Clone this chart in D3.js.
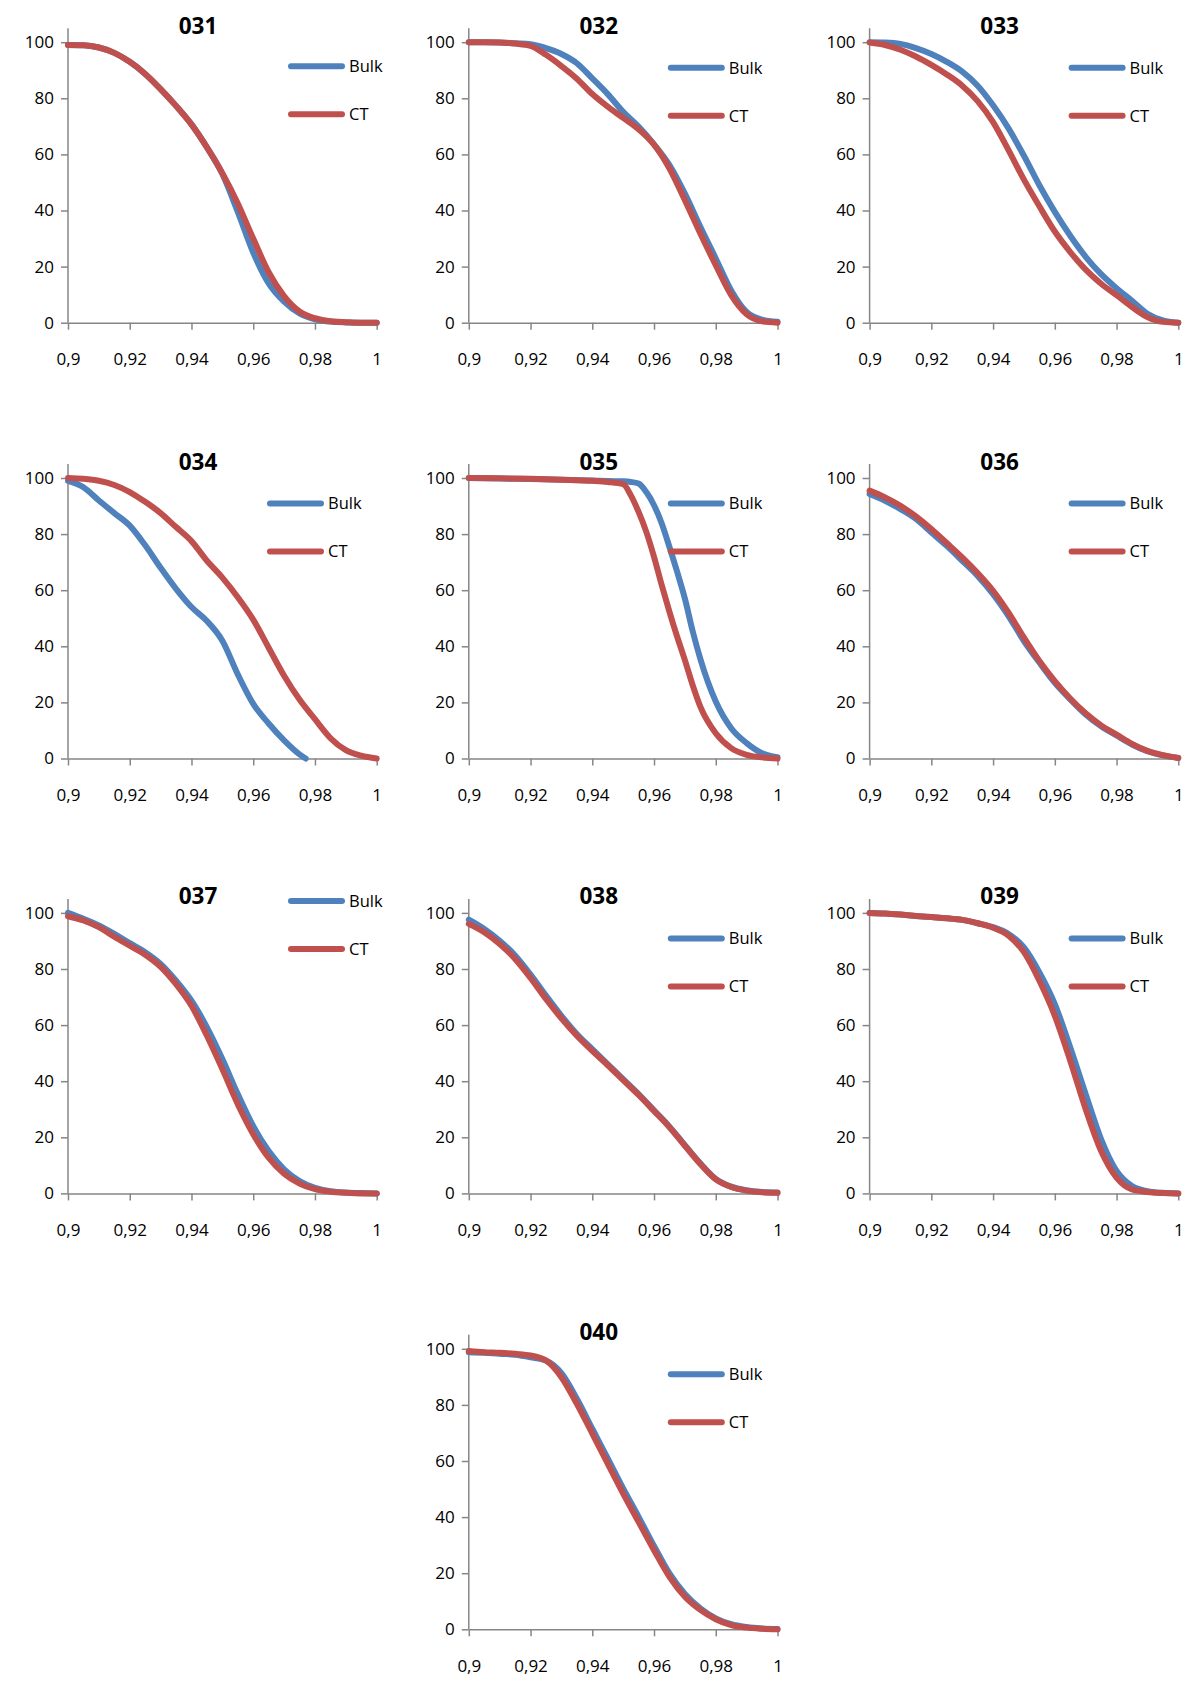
<!DOCTYPE html>
<html><head><meta charset="utf-8">
<script src="https://cdn.jsdelivr.net/npm/d3@7"></script>
<style>
body{margin:0;background:#fff;}
text{font-family:"Open Sans","Noto Sans",sans-serif;fill:#000;}
</style></head>
<body>
<svg id="chart" width="1200" height="1684"></svg>
<script>
// ---------- data ----------
const panelNames = ["031","032","033","034","035","036","037","038","039","040"];
const seriesNames = ["Bulk","CT"];
const xTickValues = [0.9,0.92,0.94,0.96,0.98,1];
const xTickLabels = ["0,9","0,92","0,94","0,96","0,98","1"];
const yTickValues = [0,20,40,60,80,100];
const yTickLabels = ["0","20","40","60","80","100"];

const xStd = [0.9,0.905,0.91,0.915,0.92,0.925,0.93,0.935,0.94,0.945,0.95,0.955,0.96,0.965,0.97,0.975,0.98,0.985,0.99,0.995,1];
const x034Bulk = [0.9,0.905,0.91,0.915,0.92,0.925,0.93,0.935,0.94,0.945,0.95,0.955,0.96,0.965,0.97,0.975,0.977];
const x035 = [0.9,0.91,0.92,0.93,0.94,0.945,0.95,0.9525,0.955,0.9575,0.96,0.9625,0.965,0.9675,0.97,0.9725,0.975,0.98,0.985,0.99,0.995,1];

const bulk031 = [99,98.9,98.1,96.2,93,88.7,83.3,77.3,70.7,62.5,53,39.5,25,14,7.5,3.3,1.2,0.4,0.1,0,0];
const ct031   = [99,98.9,98.1,96.2,93,88.7,83.3,77.3,70.7,62.5,53.3,42.5,30,18,9.5,4,1.6,0.5,0.2,0,0];
const bulk032 = [100,100,99.9,99.6,99.3,97.9,95.8,92.5,87.1,81.5,75.2,69.9,63.6,56.2,46,34.2,22.9,11.5,3.8,1.1,0.3];
const ct032   = [100,100,99.9,99.5,98.7,95.5,91.5,87,81.5,77,73,69,63.5,55,43.7,31.8,20.5,9.8,3,0.5,0];
const bulk033 = [100,99.9,99.4,97.9,95.8,93,89.5,84.5,77.5,69.3,59.5,49,39.5,31,23.5,17.3,12.3,7.8,3.2,0.8,0];
const ct033   = [99.9,99,97.3,94.9,91.9,88.5,84.5,79,71.5,61.5,51,41.5,32.5,25.2,18.9,13.9,9.8,5.6,2,0.3,0];
const bulk034 = [99,96.7,92,87.5,83,76,68,60.5,54,49,42,30,19.5,12.5,6.5,1.5,0];
const ct034   = [100,99.7,99,97.5,95,91.5,87.5,82.5,77.5,70.5,64.5,57.5,49.5,39.5,29.5,21,14,7.3,3,1,0];
const bulk035 = [100,99.8,99.6,99.4,99.1,98.9,98.8,98.6,98,95,90.3,83.8,75.4,66.5,57,45.5,35.5,20.3,10.8,5.5,1.9,0.5];
const ct035   = [100,99.9,99.7,99.4,99,98.6,97.8,93.8,87.9,80.8,71.9,61.8,52.3,43.4,35.1,26.2,18.5,9,3.7,1.3,0.4,0];
const bulk036 = [94.3,91.9,88.9,85.4,80.6,75.8,70.5,65.1,58.6,50.8,41.9,34.2,27,21.1,15.7,11.5,8.2,5,2.6,1.1,0.2];
const ct036   = [95.5,93.1,90.1,86.3,81.8,76.8,71.7,66.1,59.8,52,43.1,34.8,27.6,21.4,16.1,11.8,8.5,5.2,2.7,1.2,0.2];
const bulk037 = [100,97.9,95.5,92.5,89.2,86,81.8,75.8,68.7,59.2,47.9,35.4,24,15.1,8.6,4.4,2,0.8,0.3,0.1,0];
const ct037   = [98.8,97.3,94.9,91.5,88.3,85.1,80.8,74.6,66.9,56.2,44.3,31.8,21.1,12.7,7,3.5,1.5,0.6,0.2,0,0];
const bulk038 = [97.6,94.3,90.1,84.8,78,70.5,63.3,56.8,51.4,46.1,40.7,35.4,29.6,23.8,17.2,10.7,5.2,2.4,1.1,0.5,0.3];
const ct038   = [96.1,93.1,88.9,83.6,76.8,69.3,62.4,56.2,50.8,45.7,40.4,35.1,29.4,23.6,17,10.5,5,2.3,1,0.4,0.2];
const bulk039 = [100,99.8,99.4,98.9,98.5,98.1,97.5,96.3,94.9,92.5,87.7,78.8,67.5,52,35.4,19.3,8,2.6,0.8,0.2,0];
const ct039   = [100,99.8,99.4,98.9,98.5,98.1,97.5,96.3,94.7,91.9,86,75.8,63.3,47.3,30,15.1,5.6,1.4,0.5,0.1,0];
const bulk040 = [98.8,98.6,98.2,97.9,97,95.8,91.3,82.2,71.5,60.9,50.2,40.1,29.7,19.9,12.6,7.5,3.9,1.8,0.8,0.3,0.1];
const ct040   = [99.2,98.8,98.6,98.2,97.6,95.8,89.9,80.4,69.8,59.1,48.4,38.3,28.2,18.7,11.6,6.9,3.6,1.5,0.6,0.2,0];

const panelData = [
  {name:"031", bulk:[xStd,bulk031], ct:[xStd,ct031]},
  {name:"032", bulk:[xStd,bulk032], ct:[xStd,ct032]},
  {name:"033", bulk:[xStd,bulk033], ct:[xStd,ct033]},
  {name:"034", bulk:[x034Bulk,bulk034], ct:[xStd,ct034]},
  {name:"035", bulk:[x035,bulk035], ct:[x035,ct035]},
  {name:"036", bulk:[xStd,bulk036], ct:[xStd,ct036]},
  {name:"037", bulk:[xStd,bulk037], ct:[xStd,ct037]},
  {name:"038", bulk:[xStd,bulk038], ct:[xStd,ct038]},
  {name:"039", bulk:[xStd,bulk039], ct:[xStd,ct039]},
  {name:"040", bulk:[xStd,bulk040], ct:[xStd,ct040]}
];

// ---------- layout ----------
const colors = {Bulk:"#4F81BD", CT:"#C0504D"};
const axisColor = "#868686";
const plotW = 308.7, h100 = 280.5;
const colLeft = [68, 468.8, 869.6];
const rowBottom = [322.7, 758.5, 1193.4, 1629.3];
const panelPos = [[0,0],[0,1],[0,2],[1,0],[1,1],[1,2],[2,0],[2,1],[2,2],[3,1]];
const legendPos = {"031":[220,24],"037":[220,-12]};
const legendDefault = [199,25.5];

const svg = d3.select("#chart");
svg.append("rect").attr("width",1200).attr("height",1684).attr("fill","#fff");

panelData.forEach((p,i)=>{
  const [r,c] = panelPos[i];
  const left = colLeft[c], bottom = rowBottom[r];
  const x = d3.scaleLinear().domain([0.9,1]).range([left,left+plotW]);
  const y = d3.scaleLinear().domain([0,100]).range([bottom,bottom-h100]);
  const g = svg.append("g");

  const ya = g.append("g").attr("transform",`translate(${left},0)`)
    .call(d3.axisLeft(y).tickValues(yTickValues).tickFormat((d,j)=>yTickLabels[j])
      .tickSize(7).tickSizeOuter(0).tickPadding(7));
  ya.select(".domain").attr("d",`M0,${y(0)}V${y(105)}`);
  const xa = g.append("g").attr("transform",`translate(0,${bottom})`)
    .call(d3.axisBottom(x).tickValues(xTickValues).tickFormat((d,j)=>xTickLabels[j])
      .tickSize(7).tickSizeOuter(0).tickPadding(23.5));
  [ya,xa].forEach(a=>{
    a.selectAll(".domain").attr("stroke",axisColor).attr("stroke-width",1.5);
    a.selectAll(".tick line").attr("stroke",axisColor).attr("stroke-width",1.5);
    a.selectAll(".tick text").attr("font-size",17).attr("fill","#000")
      .attr("font-family","'Open Sans','Noto Sans',sans-serif");
  });

  const line = d3.line().x(d=>x(d[0])).y(d=>y(d[1])).curve(d3.curveMonotoneX);
  [["Bulk",p.bulk],["CT",p.ct]].forEach(([s,[xs,vs]])=>{
    g.append("path").datum(xs.map((xv,k)=>[xv,vs[k]]))
      .attr("d",line).attr("fill","none").attr("stroke",colors[s])
      .attr("stroke-width",6).attr("stroke-linejoin","round").attr("stroke-linecap","round");
  });

  g.append("text").attr("x",left+130).attr("y",y(100)-8.5)
    .attr("text-anchor","middle").attr("font-size",22.5).attr("font-weight","bold").text(p.name);

  const [ldx,ldy] = legendPos[p.name] || legendDefault;
  seriesNames.forEach((s,k)=>{
    const ly = y(100)+ldy+k*48;
    g.append("line").attr("x1",left+ldx+3).attr("x2",left+ldx+54)
      .attr("y1",ly).attr("y2",ly).attr("stroke",colors[s]).attr("stroke-width",6)
      .attr("stroke-linecap","round");
    g.append("text").attr("x",left+ldx+61).attr("y",ly).attr("dy","0.36em")
      .attr("font-size",16.5).text(s);
  });
});
</script>
</body></html>
